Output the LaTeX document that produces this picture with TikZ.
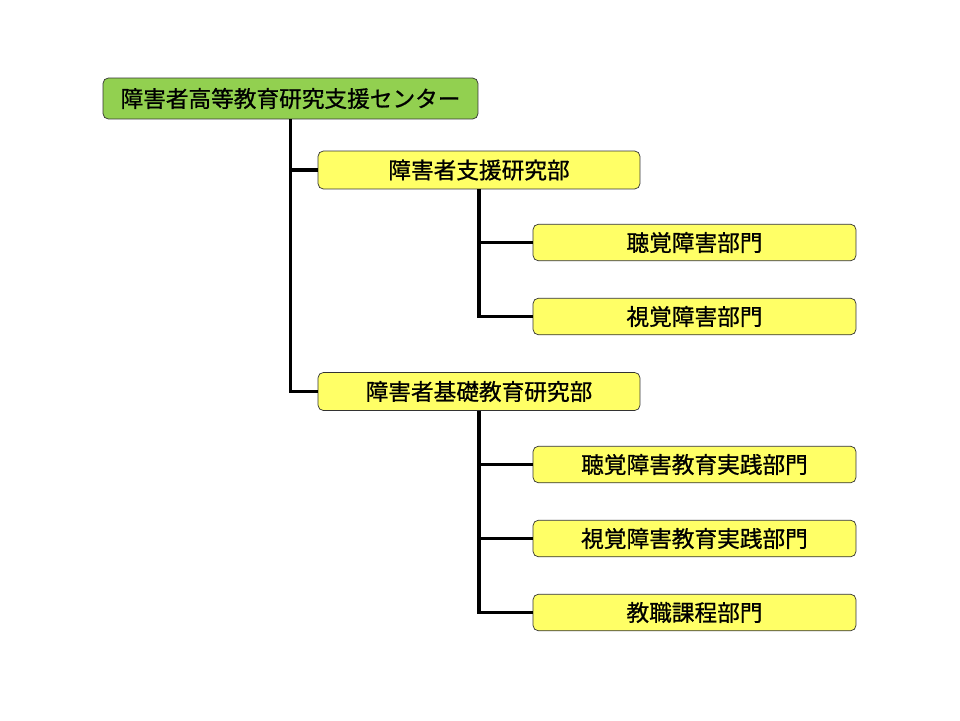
\documentclass[tikz,border=0pt]{standalone}
\usepackage{fontspec}
\newfontfamily\jpfont[FakeBold=0.8]{Noto Sans CJK JP}
\usepackage{tikz}
\usetikzlibrary{positioning}
\usepackage{xcolor}
\definecolor{centergreen}{HTML}{92D050}
\definecolor{unityellow}{HTML}{FFFF66}

\begin{document}
\begin{tikzpicture}[
    x=0.02cm, y=-0.02cm,
    center/.style={draw=black!80, rounded corners=3pt, fill=centergreen, minimum width=7.5cm, minimum height=0.82cm, font=\jpfont\fontsize{12.9}{15}\selectfont, inner sep=0pt},
    dept/.style={draw=black!80, rounded corners=3pt, fill=unityellow, minimum width=6.44cm, minimum height=0.76cm, font=\jpfont\fontsize{12.9}{15}\selectfont, inner sep=0pt},
    section/.style={draw=black!80, rounded corners=3pt, fill=unityellow, minimum width=6.46cm, minimum height=0.73cm, font=\jpfont\fontsize{12.9}{15}\selectfont, inner sep=0pt},
    link/.style={line width=1.8pt},
]
\useasboundingbox (0,0) rectangle (960,720);

\node[center] (center) at (290.5, 98.5) {障害者高等教育研究支援センター};

\node[dept] (support) at (479, 170) {障害者支援研究部};
\node[dept] (basic) at (479, 391.5) {障害者基礎教育研究部};

\node[section] (hearing) at (694.5, 242.5) {聴覚障害部門};
\node[section] (visual) at (694.5, 316.5) {視覚障害部門};

\node[section] (hearingedu) at (694.5, 464.5) {聴覚障害教育実践部門};
\node[section] (visualedu) at (694.5, 538.5) {視覚障害教育実践部門};
\node[section] (teacher) at (694.5, 612.5) {教職課程部門};

\draw[link] (center.south) |- (support.west);
\draw[link] (center.south) |- (basic.west);

\draw[link] (support.south) |- (hearing.west);
\draw[link] (support.south) |- (visual.west);

\draw[link] (basic.south) |- (hearingedu.west);
\draw[link] (basic.south) |- (visualedu.west);
\draw[link] (basic.south) |- (teacher.west);

\end{tikzpicture}
\end{document}
